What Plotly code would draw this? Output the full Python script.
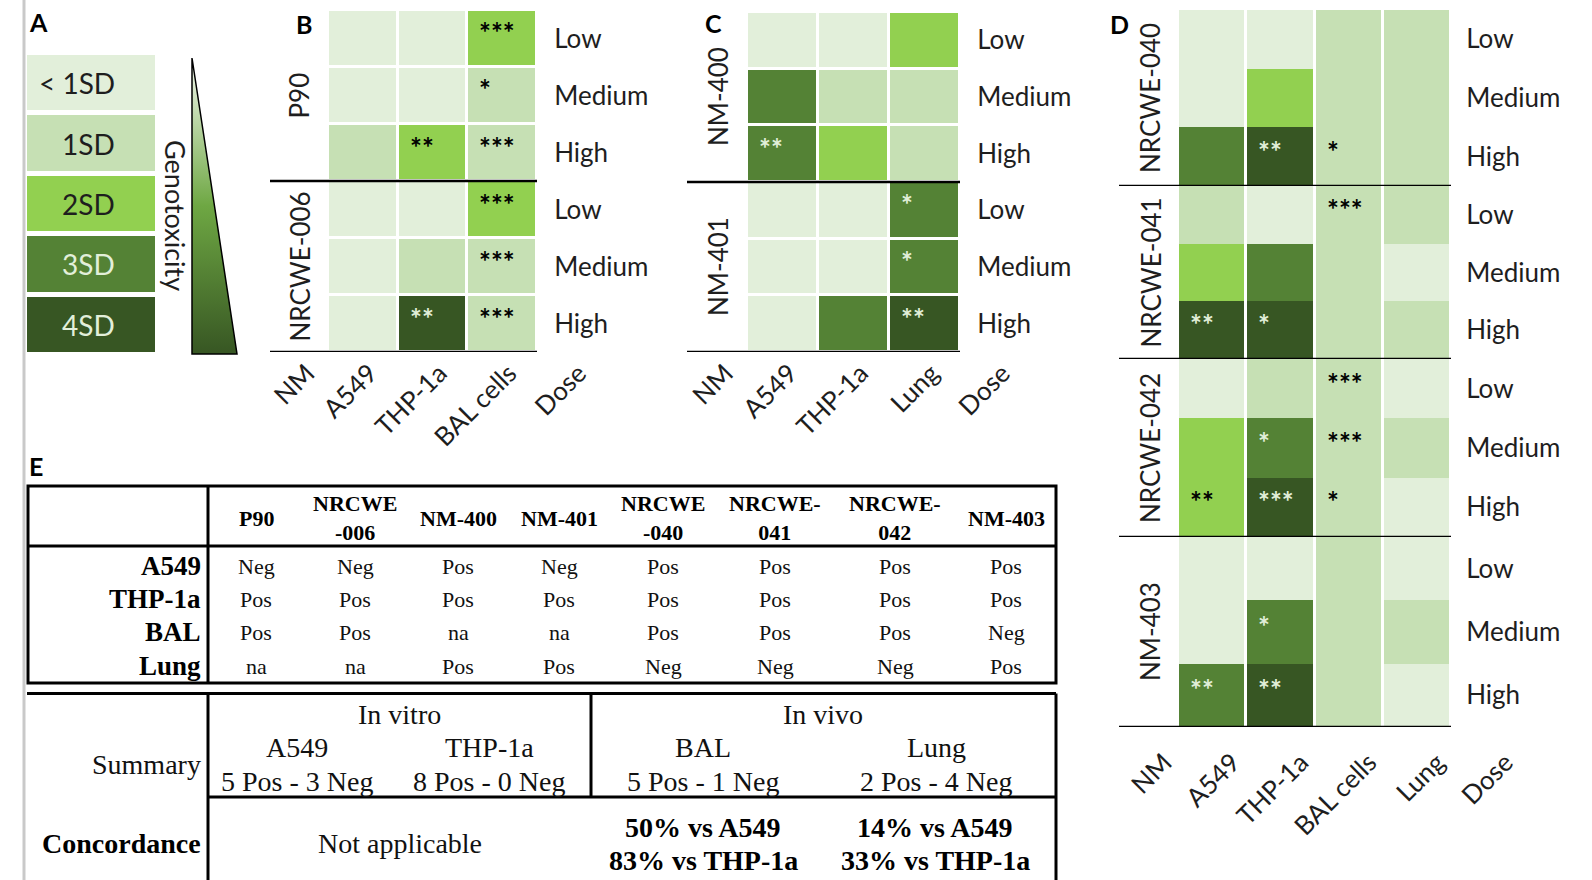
import plotly.graph_objects as go

W, H = 1592, 880
def fx(p): return p / W
def fy(p): return 1 - p / H

# ---------------- data ----------------
level_names = ['< 1SD', '1SD', '2SD', '3SD', '4SD']
level_colors = ['#E2EFDA', '#C6E0B4', '#92D050', '#548235', '#375623']
dose_labels = ['Low', 'Medium', 'High']

b_materials = ['P90', 'NRCWE-006']
b_columns = ['A549', 'THP-1a', 'BAL cells']
b_levels = [[0, 0, 2], [0, 0, 1], [1, 2, 1],
            [0, 0, 2], [0, 1, 1], [0, 4, 1]]
b_stars = [['', '', '***'], ['', '', '*'], ['', '**', '***'],
           ['', '', '***'], ['', '', '***'], ['', '**', '***']]

c_materials = ['NM-400', 'NM-401']
c_columns = ['A549', 'THP-1a', 'Lung']
c_levels = [[0, 0, 2], [3, 1, 1], [3, 2, 1],
            [0, 0, 3], [0, 0, 3], [0, 3, 4]]
c_stars = [['', '', ''], ['', '', ''], ['**', '', ''],
           ['', '', '*'], ['', '', '*'], ['', '', '**']]

d_materials = ['NRCWE-040', 'NRCWE-041', 'NRCWE-042', 'NM-403']
d_columns = ['A549', 'THP-1a', 'BAL cells', 'Lung']
d_levels = [
    [[0, 0, 1, 1], [0, 2, 1, 1], [3, 4, 1, 1]],
    [[1, 0, 1, 1], [2, 3, 1, 0], [4, 4, 1, 1]],
    [[0, 1, 1, 0], [2, 3, 1, 1], [2, 4, 1, 0]],
    [[0, 0, 1, 0], [0, 3, 1, 1], [3, 4, 1, 0]],
]
d_stars = [
    [['', '', '', ''], ['', '', '', ''], ['', '**', '*', '']],
    [['', '', '***', ''], ['', '', '', ''], ['**', '*', '', '']],
    [['', '', '***', ''], ['', '*', '***', ''], ['**', '***', '*', '']],
    [['', '', '', ''], ['', '*', '', ''], ['**', '**', '', '']],
]

tbl_materials = ['P90', 'NRCWE<br>-006', 'NM-400', 'NM-401',
                 'NRCWE<br>-040', 'NRCWE-<br>041', 'NRCWE-<br>042', 'NM-403']
tbl_rows = ['A549', 'THP-1a', 'BAL', 'Lung']
tbl_a549 = ['Neg', 'Neg', 'Pos', 'Neg', 'Pos', 'Pos', 'Pos', 'Pos']
tbl_thp1a = ['Pos', 'Pos', 'Pos', 'Pos', 'Pos', 'Pos', 'Pos', 'Pos']
tbl_bal = ['Pos', 'Pos', 'na', 'na', 'Pos', 'Pos', 'Pos', 'Neg']
tbl_lung = ['na', 'na', 'Pos', 'Pos', 'Neg', 'Neg', 'Neg', 'Pos']

sum_groups = ['In vitro', 'In vivo']
sum_systems = ['A549', 'THP-1a', 'BAL', 'Lung']
sum_counts = ['5 Pos - 3 Neg', '8 Pos - 0 Neg', '5 Pos - 1 Neg', '2 Pos - 4 Neg']
conc_invitro = 'Not applicable'
conc_bal = ['50% vs A549', '83% vs THP-1a']
conc_lung = ['14% vs A549', '33% vs THP-1a']

# ---------------- style / geometry ----------------
SANS = 'Lato'
SERIF = 'Liberation Serif'
TXT = '#1e1e1e'
LIGHT_TXT = '#E2EFDA'
LAB = 26

cs = []
for i, c in enumerate(level_colors):
    cs += [[i / 5, c], [(i + 1) / 5, c]]

fig = go.Figure()
layout = dict(width=W, height=H, margin=dict(l=0, r=0, t=0, b=0),
              paper_bgcolor='white', plot_bgcolor='white', showlegend=False)
annotations = []
shapes = []

def ann(x, y, text, size, color=TXT, family=SANS, xref='paper', yref='paper',
        xanchor='center', yanchor='middle', angle=0, xshift=0, yshift=0, bold=False):
    annotations.append(dict(x=x, y=y, xref=xref, yref=yref, text=text, showarrow=False,
                            xanchor=xanchor, yanchor=yanchor, textangle=angle,
                            xshift=xshift, yshift=yshift,
                            font=dict(family=family, size=size, color=color,
                                      weight='bold' if bold else 'normal')))

def hline(x0, x1, y, w=3, xref='paper', yref='paper'):
    shapes.append(dict(type='line', xref=xref, yref=yref, x0=x0, x1=x1, y0=y, y1=y,
                       line=dict(color='black', width=w)))

def vline(x, y0, y1, w=3):
    shapes.append(dict(type='line', xref='paper', yref='paper', x0=fx(x), x1=fx(x),
                       y0=fy(y0), y1=fy(y1), line=dict(color='black', width=w)))

hidden = dict(visible=False, fixedrange=True)

# overlay axis in pixel units (decorations)
layout['xaxis'] = dict(domain=[0, 1], range=[0, W], **hidden)
layout['yaxis'] = dict(domain=[0, 1], range=[H, 0], **hidden)

# page gray rule at left
shapes.append(dict(type='line', xref='paper', yref='paper', x0=fx(24), x1=fx(24),
                   y0=0, y1=1, line=dict(color='#c9c9c9', width=3)))

# ---------------- panel A: legend ----------------
fig.add_trace(go.Heatmap(z=[[i] for i in range(5)], x=[0], y=list(range(5)),
                         xaxis='x8', yaxis='y8', colorscale=cs, zmin=-0.5, zmax=4.5,
                         showscale=False, ygap=5, hoverinfo='skip'))
layout['xaxis8'] = dict(domain=[fx(27), fx(155)], range=[-0.5, 0.5], anchor='y8', **hidden)
layout['yaxis8'] = dict(domain=[fy(355), fy(53)], range=[4.5, -0.5], anchor='x8', **hidden)
for i, name in enumerate(level_names):
    ann(fx(117), i, name, 28, color=TXT if i < 3 else LIGHT_TXT, yref='y8', xanchor='right')

tri_x = [192, 192, 237, 192]
tri_y = [58, 354, 354, 58]
fig.add_trace(go.Scatter(x=tri_x, y=tri_y, xaxis='x', yaxis='y', mode='lines',
                         fill='toself', line=dict(color='black', width=1.5),
                         fillgradient=dict(type='vertical', start=58, stop=354,
                                           colorscale=[[0, '#f4f9ef'], [0.5, '#6ea743'],
                                                       [1, '#375623']]),
                         hoverinfo='skip'))
ann(fx(176), fy(215), 'Genotoxicity', 27, angle=90)

# panel letters
for letter, (lx, ly) in zip('ABCDE', [(38, 22), (304, 24), (713, 23), (1119, 24), (36, 466)]):
    ann(fx(lx), fy(ly), letter, 25, color='black', bold=True)

# ---------------- heatmap panels ----------------
def star_color(level):
    return LIGHT_TXT if level >= 3 else 'black'

def x_axis(name, anchor, cx0, cx1, ncol, columns, nm_pos, shift, ticklen):
    unit = (cx1 - cx0) / ncol
    tv = [nm_pos] + list(range(1, ncol + 1)) + [ncol + 1]
    layout[name] = dict(domain=[fx(cx0 - unit), fx(cx1 + unit)], range=[-0.5, ncol + 1.5],
                        anchor=anchor, tickvals=[v + shift for v in tv],
                        ticktext=['NM'] + columns + ['Dose'], tickangle=-45,
                        ticks='outside' if ticklen else '', ticklen=max(ticklen, 1),
                        tickcolor='rgba(0,0,0,0)',
                        tickfont=dict(family=SANS, size=LAB, color=TXT),
                        showgrid=False, zeroline=False, showline=False, fixedrange=True)
    return unit

def y_axis(name, y0, y1, nrow, right_px, ticklen):
    layout[name] = dict(domain=[fy(y1), fy(y0)], range=[nrow - 0.5, -0.5], anchor='free',
                        position=fx(right_px), side='right',
                        tickvals=list(range(nrow)),
                        ticktext=(dose_labels * (nrow // 3)),
                        ticks='outside', ticklen=ticklen, tickcolor='rgba(0,0,0,0)',
                        tickfont=dict(family=SANS, size=LAB, color=TXT),
                        showgrid=False, zeroline=False, showline=False, fixedrange=True)

def add_stars(stars, levels, xref, yref):
    for r, row in enumerate(stars):
        for c, s in enumerate(row):
            if s:
                ann(c + 0.5, r, s, 28, color=star_color(levels[r][c]), xref=xref, yref=yref,
                    xanchor='left', xshift=10, yshift=6, bold=True)

def two_group_panel(xa, ya, levels, stars, materials, columns, cx0, cx1, y0, y1,
                    line_left, mat_x):
    ncol = len(columns)
    nrow = len(levels)
    fig.add_trace(go.Heatmap(z=levels, x=list(range(1, ncol + 1)), y=list(range(nrow)),
                             xaxis=xa, yaxis=ya, colorscale=cs, zmin=-0.5, zmax=4.5,
                             showscale=False, xgap=3, ygap=3, hoverinfo='skip'))
    unit = x_axis('xaxis' + xa[1:], ya, cx0, cx1, ncol, columns, 0.1, 0.1, 0)
    y_axis('yaxis' + ya[1:], y0, y1, nrow, cx1, 11)
    add_stars(stars, levels, xa, ya)
    xl = 0.5 + (line_left - cx0) / unit
    for g in range(len(materials)):
        hline(xl, ncol + 0.5, 3 * g + 2.5, w=2.5, xref=xa, yref=ya)
        ann(fx(mat_x), 3 * g + 1, materials[g], LAB, yref=ya, angle=-90)

two_group_panel('x2', 'y2', b_levels, b_stars, b_materials, b_columns,
                328, 537, 10, 352, 270, 299)
two_group_panel('x3', 'y3', c_levels, c_stars, c_materials, c_columns,
                747, 960, 12, 352, 687, 718)

# panel D: four groups sharing one x axis
d_groups_px = [(10, 186), (186, 359), (359, 537), (537, 727)]
d_cx0, d_cx1 = 1178, 1451
d_unit = x_axis('xaxis4', 'y7', d_cx0, d_cx1, 4, d_columns, 0.0, 0.3, 9)
for g, (gy0, gy1) in enumerate(d_groups_px):
    ya = 'y%d' % (4 + g)
    fig.add_trace(go.Heatmap(z=d_levels[g], x=[1, 2, 3, 4], y=[0, 1, 2],
                             xaxis='x4', yaxis=ya, colorscale=cs, zmin=-0.5, zmax=4.5,
                             showscale=False, xgap=3, ygap=0, hoverinfo='skip'))
    y_axis('yaxis%d' % (4 + g), gy0, gy1, 3, d_cx1, 9)
    add_stars(d_stars[g], d_levels[g], 'x4', ya)
    hline(0.5 + (1119 - d_cx0) / d_unit, 4.5, 2.5, w=2.5, xref='x4', yref=ya)
    ann(fx(1150), 1, d_materials[g], LAB, yref=ya, angle=-90)

# ---------------- panel E: tables ----------------
shapes.append(dict(type='rect', xref='paper', yref='paper', x0=fx(28), x1=fx(1056),
                   y0=fy(683), y1=fy(486), line=dict(color='black', width=3)))
hline(fx(28), fx(1056), fy(546))
vline(208, 486, 683)

col_x = [256, 355, 458, 559, 663, 775, 895, 1006]
row_y = [566, 599, 632, 666]
for m, cx in zip(tbl_materials, col_x):
    ann(fx(cx), fy(518), m, 22, color='black', family=SERIF, bold=True)
for rname, ry, vals in zip(tbl_rows, row_y, [tbl_a549, tbl_thp1a, tbl_bal, tbl_lung]):
    ann(fx(203), fy(ry), rname, 27, color='black', family=SERIF, xanchor='right', bold=True)
    for v, cx in zip(vals, col_x):
        ann(fx(cx), fy(ry), v, 22, color='#111', family=SERIF)

# summary table
hline(fx(27), fx(1056), fy(693.5))
vline(208, 693.5, 880)
vline(591, 693.5, 797)
hline(fx(208), fx(1056), fy(797))
vline(1056, 693.5, 880)

ST = 28
ann(fx(399), fy(714), sum_groups[0], ST, color='#111', family=SERIF)
ann(fx(823), fy(714), sum_groups[1], ST, color='#111', family=SERIF)
for sname, cnt, sx in zip(sum_systems, sum_counts, [297, 489, 703, 936]):
    ann(fx(sx), fy(747), sname, ST, color='#111', family=SERIF)
    ann(fx(sx), fy(781), cnt, ST, color='#111', family=SERIF)
ann(fx(203), fy(764), 'Summary', ST, color='#111', family=SERIF, xanchor='right')
ann(fx(203), fy(843), 'Concordance', ST, color='black', family=SERIF, xanchor='right', bold=True)
ann(fx(400), fy(843), conc_invitro, ST, color='#111', family=SERIF)
for lines, sx in zip([conc_bal, conc_lung], [703, 935]):
    ann(fx(sx), fy(827), lines[0], ST, color='black', family=SERIF, bold=True)
    ann(fx(sx), fy(860), lines[1], ST, color='black', family=SERIF, bold=True)

layout['annotations'] = annotations
layout['shapes'] = shapes
fig.update_layout(**layout)
fig.write_html('out.html', config={'displayModeBar': False},
               post_script="document.body.style.margin='0';document.body.style.overflow='hidden';")
